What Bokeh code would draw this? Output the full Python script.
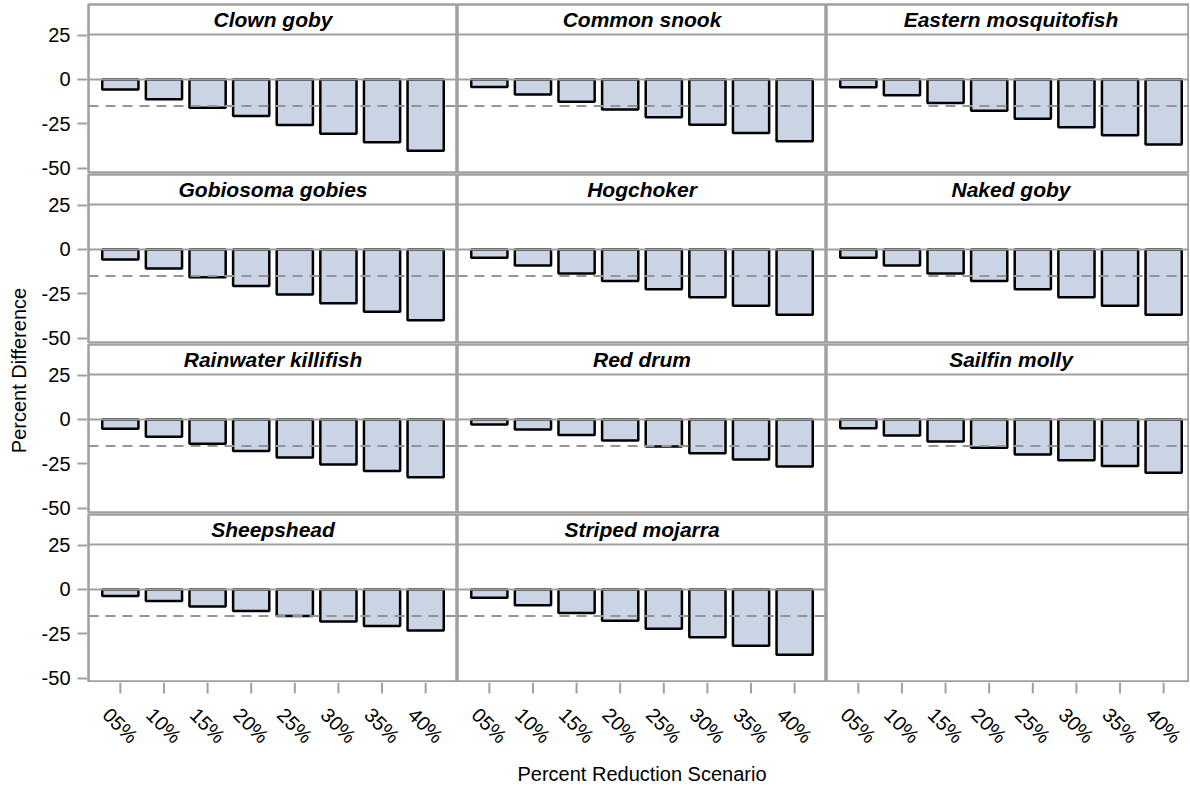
import math
from bokeh.plotting import figure
from bokeh.models import ColumnDataSource, Range1d, Span, FixedTicker
from bokeh.layouts import row, column
from bokeh.embed import file_html
from bokeh.resources import INLINE
from bokeh.core.properties import value

# ---------------- data ----------------
scenarios = ["05%", "10%", "15%", "20%", "25%", "30%", "35%", "40%"]
species = ["Clown goby", "Common snook", "Eastern mosquitofish",
           "Gobiosoma gobies", "Hogchoker", "Naked goby",
           "Rainwater killifish", "Red drum", "Sailfin molly",
           "Sheepshead", "Striped mojarra"]
clown_goby = [-5.7, -11.1, -15.9, -20.6, -25.7, -30.6, -35.4, -40.2]
common_snook = [-4.3, -8.5, -12.6, -16.9, -21.3, -25.6, -30.2, -34.8]
eastern_mosquitofish = [-4.4, -8.9, -13.3, -17.6, -22.2, -26.9, -31.5, -36.7]
gobiosoma_gobies = [-5.6, -10.7, -15.7, -20.6, -25.4, -30.4, -35.2, -40.0]
hogchoker = [-4.6, -9.1, -13.5, -17.8, -22.4, -26.9, -31.7, -36.9]
naked_goby = [-4.6, -9.1, -13.5, -17.8, -22.4, -26.9, -31.7, -36.9]
rainwater_killifish = [-5.2, -9.8, -13.7, -17.8, -21.5, -25.4, -29.1, -32.6]
red_drum = [-2.8, -5.7, -8.7, -11.9, -15.2, -19.1, -22.6, -26.5]
sailfin_molly = [-5.0, -9.1, -12.4, -15.9, -19.8, -23.0, -26.3, -30.0]
sheepshead = [-3.7, -6.5, -9.6, -12.2, -15.0, -18.0, -20.6, -23.1]
striped_mojarra = [-4.6, -8.9, -13.3, -17.6, -22.2, -26.9, -31.7, -36.9]
threshold = -15.0
y_ticks = [-50, -25, 0, 25]
y_tick_labels = {-50: "-50", -25: "-25", 0: "0", 25: "25"}
x_title = "Percent Reduction Scenario"
y_title = "Percent Difference"

series = [clown_goby, common_snook, eastern_mosquitofish, gobiosoma_gobies,
          hogchoker, naked_goby, rainwater_killifish, red_drum,
          sailfin_molly, sheepshead, striped_mojarra]

# ---------------- style / layout ----------------
FONT = "Liberation Sans"
GRAY = "#a0a0a0"
DASH_GRAY = "#959595"
BAR_FILL = "#cad4e4"
NCOL, NROW = 3, 4
YLAB_W = 38
AXIS_W = 49
FRAME_W = 369
COL_W = [1 + FRAME_W, FRAME_W, 363]
COL_LEFT = [1, 0, 0]
TOP0 = 4
STRIP_PX = 30
PANEL_PX = 138
GAP_PX = 2
ROW_PX = STRIP_PX + PANEL_PX + GAP_PX
TOTAL_H = 785
LABEL_H = TOTAL_H - (TOP0 + NROW * ROW_PX - GAP_PX)
X0, X1 = -0.73, 7.73
Y0, Y1 = -52.5, 25.4
PX_PER_UNIT = PANEL_PX / (Y1 - Y0)
STRIP_UNITS = STRIP_PX / PX_PER_UNIT


def base_fig(width, height, **kw):
    p = figure(width=width, height=height, output_backend="svg",
               toolbar_location=None, title=None, **kw)
    p.min_border = 0
    p.min_border_left = 0
    p.min_border_right = 0
    p.min_border_top = 0
    p.min_border_bottom = 0
    p.grid.visible = False
    p.outline_line_color = None
    p.background_fill_color = "white"
    p.border_fill_color = "white"
    return p


x_ranges = []
for c in range(NCOL):
    frame = COL_W[c] - COL_LEFT[c]
    x_ranges.append(Range1d(X0, X0 + (X1 - X0) * frame / FRAME_W))


def make_cell(idx, r, c):
    top_b = TOP0 if r == 0 else 0
    bot_b = GAP_PX if r < NROW - 1 else 0
    p = base_fig(COL_W[c], top_b + STRIP_PX + PANEL_PX + bot_b,
                 x_range=x_ranges[c], y_range=Range1d(Y0, Y1 + STRIP_UNITS),
                 x_axis_location=None, y_axis_location=None)
    p.min_border_top = top_b
    p.min_border_bottom = bot_b
    p.min_border_left = COL_LEFT[c]
    p.outline_line_color = GRAY
    p.outline_line_width = 2.5
    # strip separator
    p.add_layout(Span(location=Y1, dimension="width", line_color=GRAY,
                      line_width=2))
    if idx is not None:
        src = ColumnDataSource(dict(x=list(range(len(scenarios))),
                                    top=series[idx]))
        p.vbar(x="x", top="top", bottom=0, width=0.83, source=src,
               fill_color=BAR_FILL, line_color="black", line_width=2.5)
        p.add_layout(Span(location=0, dimension="width",
                          line_color=GRAY, line_width=2))
        p.add_layout(Span(location=threshold, dimension="width",
                          line_color=DASH_GRAY, line_width=2,
                          line_dash="10 7"))
        p.text(x=[(X0 + X1) / 2], y=[Y1 + STRIP_UNITS / 2], text=[species[idx]],
               text_align="center", text_baseline="middle",
               text_font=value(FONT), text_font_style="bold italic",
               text_font_size="21px", text_color="black")
    return p


def make_axis_fig(r):
    def seg_top(k):
        return 0 if k == 0 else TOP0 + k * ROW_PX + STRIP_PX // 2
    a = seg_top(r)
    b = seg_top(r + 1) if r < NROW - 1 else TOTAL_H
    t = TOP0 + r * ROW_PX + STRIP_PX
    bt = t + PANEL_PX
    y_top = Y1 + (t - a) / PX_PER_UNIT
    y_bot = Y0 - (b - bt) / PX_PER_UNIT
    p = base_fig(AXIS_W, b - a, x_range=Range1d(0, 1),
                 y_range=Range1d(y_bot, y_top),
                 x_axis_location=None, y_axis_location="left")
    p.min_border_left = AXIS_W - 1
    ax = p.yaxis[0]
    ax.ticker = FixedTicker(ticks=y_ticks)
    ax.major_label_overrides = y_tick_labels
    ax.major_tick_out = 10
    ax.major_tick_in = 0
    ax.minor_tick_line_color = None
    ax.major_tick_line_color = GRAY
    ax.major_tick_line_width = 2
    ax.axis_line_color = None
    ax.major_label_text_font = FONT
    ax.major_label_text_font_size = "20px"
    ax.major_label_text_color = "black"
    ax.major_label_standoff = 7
    return p


def make_labels(c):
    p = base_fig(COL_W[c], LABEL_H, x_range=x_ranges[c],
                 y_range=Range1d(0, LABEL_H),
                 x_axis_location=None, y_axis_location=None)
    p.min_border_left = COL_LEFT[c]
    n = len(scenarios)
    p.segment(x0=list(range(n)), y0=[LABEL_H] * n,
              x1=list(range(n)), y1=[LABEL_H - 11] * n,
              line_color=GRAY, line_width=2)
    p.text(x=list(range(n)), y=[LABEL_H - 43] * n,
           text=scenarios, angle=-math.pi / 4, text_align="center",
           text_baseline="middle", text_font=value(FONT),
           text_font_size="20px", text_color="black")
    if c == 1:
        p.text(x=[(X0 + X1) / 2], y=[LABEL_H - 91], text=[x_title],
               text_align="center", text_baseline="middle",
               text_font=value(FONT), text_font_size="20px",
               text_color="black")
    return p


grid_rows = []
for r in range(NROW):
    cells = []
    for c in range(NCOL):
        idx = r * NCOL + c
        cells.append(make_cell(idx if idx < len(species) else None, r, c))
    grid_rows.append(row(*cells))
grid_rows.append(row(*[make_labels(c) for c in range(NCOL)]))

axis_col = column(*[make_axis_fig(r) for r in range(NROW)])

ylab = base_fig(YLAB_W, TOTAL_H, x_range=Range1d(0, YLAB_W),
                y_range=Range1d(0, TOTAL_H),
                x_axis_location=None, y_axis_location=None)
ylab.text(x=[18], y=[TOTAL_H - 370], text=[y_title],
          angle=math.pi / 2, text_align="center", text_baseline="middle",
          text_font=value(FONT), text_font_size="20px", text_color="black")

layout = row(ylab, axis_col, column(*grid_rows))

open("out.html", "w").write(file_html(layout, INLINE))
